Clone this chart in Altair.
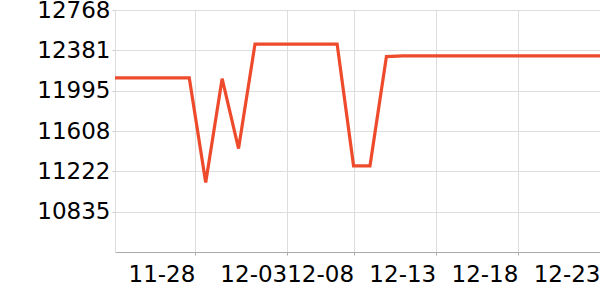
import altair as alt
import pandas as pd

dates = [
    "2023-11-23", "2023-11-24", "2023-11-25", "2023-11-26", "2023-11-27", "2023-11-28",
    "2023-11-29", "2023-11-30", "2023-12-01", "2023-12-02", "2023-12-03", "2023-12-04",
    "2023-12-05", "2023-12-06", "2023-12-07", "2023-12-08", "2023-12-09", "2023-12-10",
    "2023-12-11", "2023-12-12", "2023-12-13", "2023-12-14", "2023-12-15", "2023-12-16",
    "2023-12-17", "2023-12-18", "2023-12-19", "2023-12-20", "2023-12-21", "2023-12-22",
    "2023-12-23",
]
values = [
    12117, 12117, 12117, 12117, 12117, 12117,
    11115, 12110, 11440, 12441, 12441, 12441,
    12441, 12441, 12441, 11275, 11275, 12322,
    12328, 12328, 12328, 12328, 12328, 12328,
    12328, 12328, 12328, 12328, 12328, 12328,
    12328,
]

x_domain = ["2023-11-23T11:30:00Z", "2023-12-23T00:00:00Z"]
x_ticks = ["2023-11-28T08:10:00Z", "2023-12-03T22:20:00Z", "2023-12-08T00:00:00Z",
           "2023-12-13T00:00:00Z", "2023-12-18T00:00:00Z", "2023-12-23T00:00:00Z"]
y_domain = [10449, 12768]
y_ticks = [10835.5, 11222, 11608.5, 11995, 12381.5, 12768]

df = pd.DataFrame({"date": [d + "T00:00:00Z" for d in dates], "value": values})

def ms(s):
    return int(pd.Timestamp(s).value // 10**6)

chart = alt.Chart(df).mark_line(
    color="#ee4a2c", strokeWidth=3.2, clip=True
).encode(
    x=alt.X(
        "date:T",
        scale=alt.Scale(type="utc", domain=[ms(d) for d in x_domain]),
        axis=alt.Axis(
            values=[ms(t) for t in x_ticks],
            labelExpr="utcFormat(datum.value, '%m-%d')",
            title=None,
            labelAlign="right",
            labelFontSize=23,
            labelFont="DejaVu Sans",
            labelColor="#000",
            labelPadding=8,
            tickSize=3,
            tickColor="#aaa",
            domainColor="#aaa",
            gridColor="#ddd",
            labelFlush=False,
            labelOverlap=False,
        ),
    ),
    y=alt.Y(
        "value:Q",
        scale=alt.Scale(domain=y_domain, nice=False, zero=False),
        axis=alt.Axis(
            values=y_ticks,
            labelExpr="format(floor(datum.value), 'd')",
            title=None,
            labelFontSize=23,
            labelFont="DejaVu Sans",
            labelColor="#000",
            labelPadding=2,
            tickSize=3,
            tickColor="#ccc",
            domainColor="#ddd",
            gridColor="#ddd",
            labelOverlap=False,
        ),
    ),
).properties(
    width=485,
    height=242,
    autosize=alt.AutoSizeParams(type="none"),
    padding={"left": 115, "top": 10, "right": 0, "bottom": 48},
).configure_view(stroke=None)

chart.save("out.html", embed_options={"renderer": "svg", "actions": False})
